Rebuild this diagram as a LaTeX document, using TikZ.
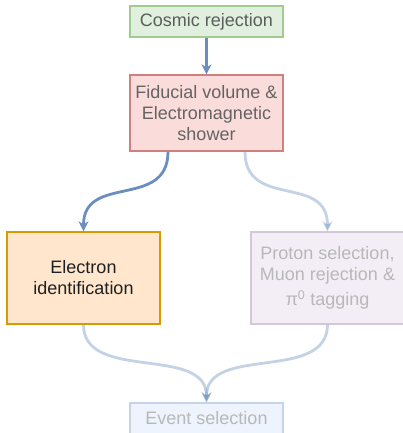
\documentclass[tikz,border=0pt]{standalone}
\usepackage{fontspec}
\setmainfont{Liberation Sans}
\usetikzlibrary{arrows.meta,calc}

\definecolor{flowblue}{HTML}{6C8EBF}

\begin{document}
\begin{tikzpicture}[x=1pt,y=-1pt,
  box/.style={draw, line width=1.3pt, minimum width=153pt, align=center,
    inner sep=0pt, font=\fontsize{18}{21}\selectfont},
  flow/.style={draw=flowblue, line width=2.8pt,
    -{Stealth[length=10pt,width=10pt,inset=3pt]}},
  faded/.style={flow, draw opacity=0.4, fill opacity=0.4}]
\useasboundingbox (0,0) rectangle (402,433);

% selection stages
\node[box, fill={rgb,255:red,225;green,239;blue,223},
      draw={rgb,255:red,160;green,203;blue,145},
      text={rgb,255:red,90;green,94;blue,90}, minimum height=31pt]
      (cosmic) at (206.5,21.5) {Cosmic rejection};
\node[box, fill={rgb,255:red,250;green,220;blue,218},
      draw={rgb,255:red,208;green,128;blue,125},
      text={rgb,255:red,100;green,100;blue,100}, minimum height=76pt]
      (fid) at (206.5,113) {Fiducial volume \&\\Electromagnetic\\shower};
\node[box, fill={rgb,255:red,255;green,230;blue,204},
      draw={rgb,255:red,215;green,155;blue,0},
      text={rgb,255:red,30;green,32;blue,36}, minimum height=92pt]
      (ele) at (83.5,278) {Electron\\identification};
\node[box, fill={rgb,255:red,243;green,238;blue,245},
      draw={rgb,255:red,213;green,199;blue,219},
      text={rgb,255:red,184;green,184;blue,184}, minimum height=92pt]
      (pro) at (327.5,278) {Proton selection,\\Muon rejection \&\\[4pt]π\textsuperscript{0} tagging};
\node[box, fill={rgb,255:red,238;green,244;blue,253},
      draw={rgb,255:red,196;green,212;blue,234},
      text={rgb,255:red,184;green,184;blue,184}, minimum height=31pt]
      (evt) at (206.5,418.5) {Event selection};

% connectors
\coordinate (fidL) at ($(fid.south)+(-38.5,0)$);
\coordinate (fidR) at ($(fid.south)+(38.5,0)$);

\draw[flow] (cosmic.south) -- (fid.north);
\draw[flow] (fidL) .. controls +(0,58) and +(0,-58) .. (ele.north);
\draw[faded] (fidR) .. controls +(0,58) and +(0,-58) .. (pro.north);
\draw[faded] (ele.south) .. controls +(0,58) and +(0,-58) .. (evt.north);
\draw[faded] (pro.south) .. controls +(0,58) and +(0,-58) .. (evt.north);
\end{tikzpicture}
\end{document}
